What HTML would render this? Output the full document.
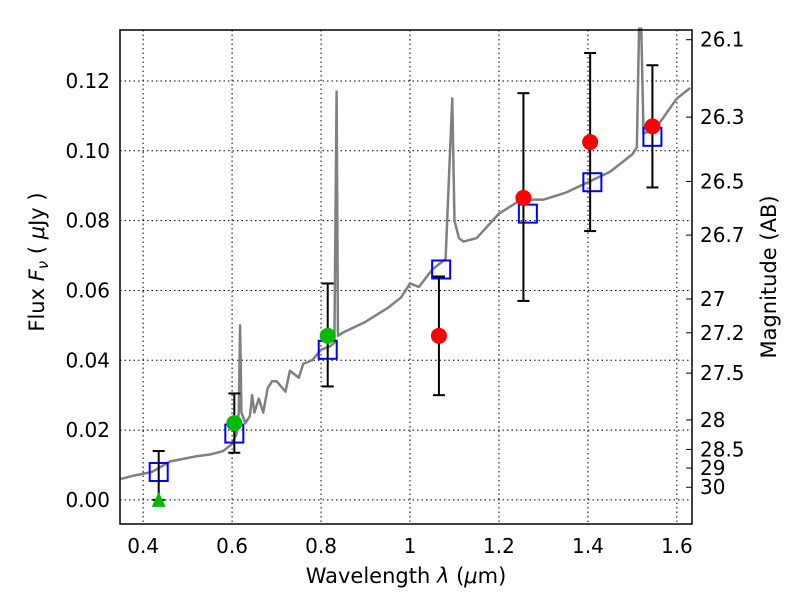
<!DOCTYPE html>
<html><head><meta charset="utf-8"><style>
body{margin:0;background:#fff;}
svg text{font-family:"DejaVu Sans","Liberation Sans",sans-serif;}
</style></head><body>
<svg id="chart" width="800" height="600" viewBox="0 0 800 600" xmlns="http://www.w3.org/2000/svg">
<g id="grid"></g>
<g id="spec"></g>
<g id="marks"></g>
<g id="axes"></g>
</svg>
<script>
const xTicks=[0.4,0.6,0.8,1.0,1.2,1.4,1.6];
const xTickLabels=["0.4","0.6","0.8","1","1.2","1.4","1.6"];
const yTicks=[0,0.02,0.04,0.06,0.08,0.10,0.12];
const yTickLabels=["0.00","0.02","0.04","0.06","0.08","0.10","0.12"];
const magTicks=[26.1,26.3,26.5,26.7,27,27.2,27.5,28,28.5,29,30];
const specWave=[0.35,0.38,0.40,0.42,0.44,0.46,0.48,0.5,0.52,0.55,0.58,0.6,0.61,0.615,0.618,0.621,0.63,0.64,0.645,0.65,0.66,0.67,0.68,0.69,0.7,0.72,0.73,0.75,0.76,0.78,0.8,0.82,0.83,0.835,0.838,0.85,0.9,0.95,0.98,1.0,1.02,1.05,1.08,1.095,1.1,1.11,1.12,1.15,1.2,1.25,1.3,1.35,1.4,1.45,1.5,1.51,1.515,1.52,1.525,1.55,1.6,1.63];
const specFlux=[0.006,0.007,0.0075,0.008,0.0095,0.011,0.0115,0.012,0.0125,0.013,0.014,0.016,0.019,0.025,0.050,0.025,0.022,0.024,0.030,0.025,0.029,0.025,0.032,0.034,0.034,0.031,0.037,0.035,0.039,0.040,0.043,0.044,0.045,0.117,0.047,0.048,0.051,0.055,0.058,0.062,0.061,0.066,0.069,0.115,0.080,0.075,0.074,0.075,0.082,0.086,0.086,0.088,0.091,0.094,0.099,0.101,0.135,0.135,0.105,0.106,0.115,0.118];
const modelWave=[0.435,0.605,0.815,1.07,1.265,1.41,1.545];
const modelFlux=[0.008,0.019,0.043,0.066,0.082,0.091,0.104];
const redWave=[1.065,1.255,1.405,1.545];
const redFlux=[0.047,0.0865,0.1025,0.107];
const redLo=[0.030,0.057,0.077,0.0895];
const redHi=[0.064,0.1165,0.128,0.1245];
const greenWave=[0.605,0.815];
const greenFlux=[0.022,0.047];
const greenLo=[0.0135,0.0325];
const greenHi=[0.0305,0.062];
const triWave=[0.435];
const triFlux=[0.0];
const triHi=[0.014];

const L=120,R=692,T=30,B=524,X0=0.348,X1=1.634,Y0=-0.0069,Y1=0.1346;
const sx=v=>L+(v-X0)/(X1-X0)*(R-L);
const sy=v=>B-(v-Y0)/(Y1-Y0)*(B-T);
const NS="http://www.w3.org/2000/svg";
function mk(t,a,p){const e=document.createElementNS(NS,t);for(const k in a)e.setAttribute(k,a[k]);p.appendChild(e);return e;}
const grid=document.getElementById('grid'),axes=document.getElementById('axes'),marks=document.getElementById('marks'),spec=document.getElementById('spec');
xTicks.forEach((v,i)=>{
 const l=mk('line',{x1:sx(v),x2:sx(v),y1:T,y2:B,stroke:'#000','stroke-dasharray':'1.5,3','stroke-width':1},grid);
 
 const t=mk('text',{x:sx(v),y:B+29,'text-anchor':'middle','font-size':20},axes);t.textContent=xTickLabels[i];
 
});
yTicks.forEach((v,i)=>{
 const l=mk('line',{x1:L,x2:R,y1:sy(v),y2:sy(v),stroke:'#000','stroke-dasharray':'1.5,3','stroke-width':1},grid);
 
 const t=mk('text',{x:L-10,y:sy(v)+7,'text-anchor':'end','font-size':20},axes);t.textContent=yTickLabels[i];
 
});
magTicks.forEach(m=>{
 const f=Math.pow(10,(23.9-m)/2.5);const y=sy(f);
 const tk=mk('line',{x1:R,x2:R-6,y1:y,y2:y,stroke:'#000'},axes);
 
 const t=mk('text',{x:R+8,y:y+7,'font-size':20},axes);t.textContent=String(m);
 
});
const pts=specWave.map((w,i)=>sx(w)+','+sy(specFlux[i])).join(' ');
const pl=mk('polyline',{points:pts,fill:'none',stroke:'#808080','stroke-width':2.5,'stroke-linejoin':'round'},spec);

function eb(x,lo,hi){
 mk('line',{x1:x,x2:x,y1:sy(lo),y2:sy(hi),stroke:'#000','stroke-width':2},marks);
 mk('line',{x1:x-6,x2:x+6,y1:sy(lo),y2:sy(lo),stroke:'#000','stroke-width':2},marks);
 mk('line',{x1:x-6,x2:x+6,y1:sy(hi),y2:sy(hi),stroke:'#000','stroke-width':2},marks);
}
modelWave.forEach((w,i)=>{
 const r=mk('rect',{x:sx(w)-9,y:sy(modelFlux[i])-9,width:18,height:18,fill:'none',stroke:'#0000ff','stroke-width':2},marks);
 
});
triWave.forEach((w,i)=>{
 const x=sx(w),y=sy(triFlux[i]);
 eb(x,triFlux[i],triHi[i]);
 const p=mk('polygon',{points:`${x},${y-8} ${x-7},${y+7} ${x+7},${y+7}`,fill:'#00bb00'},marks);
 
});
greenWave.forEach((w,i)=>{
 eb(sx(w),greenLo[i],greenHi[i]);
 const c=mk('circle',{cx:sx(w),cy:sy(greenFlux[i]),r:8,fill:'#00bb00'},marks);
 
});
redWave.forEach((w,i)=>{
 eb(sx(w),redLo[i],redHi[i]);
 const c=mk('circle',{cx:sx(w),cy:sy(redFlux[i]),r:8,fill:'#ff0000'},marks);
 
});
const fr=mk('rect',{x:L,y:T,width:R-L,height:B-T,fill:'none',stroke:'#000','stroke-width':1.5},axes);

</script>
<svg style="position:absolute;left:0;top:0" width="800" height="600">
<text x="406" y="583" text-anchor="middle" font-size="21" font-family="DejaVu Sans,sans-serif">Wavelength  <tspan font-style="italic">λ</tspan> (<tspan font-style="italic">μ</tspan>m)</text>
<text transform="translate(44,262) rotate(-90)" text-anchor="middle" font-size="21" font-family="DejaVu Sans,sans-serif">Flux  <tspan font-style="italic">F</tspan><tspan font-style="italic" font-size="15" dy="4">ν</tspan><tspan dy="-4">  ( </tspan><tspan font-style="italic">μ</tspan>Jy )</text>
<text transform="translate(776,277) rotate(-90)" text-anchor="middle" font-size="21" font-family="DejaVu Sans,sans-serif">Magnitude (AB)</text>
</svg>
</body></html>
